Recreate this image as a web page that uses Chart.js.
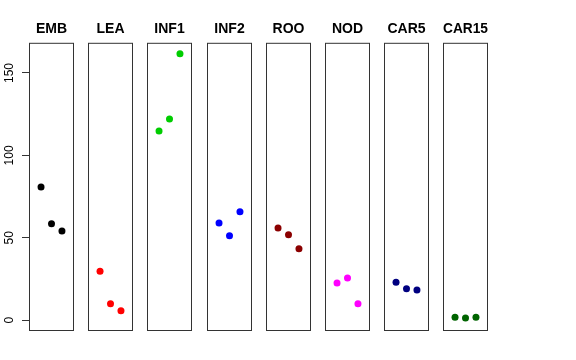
<!DOCTYPE html>
<html>
<head>
<meta charset="utf-8">
<script src="https://cdn.jsdelivr.net/npm/chart.js@4.4.1/dist/chart.umd.min.js"></script>
<style>
body { margin: 0; background: #fff; }
#wrap { position: relative; width: 576px; height: 360px; overflow: hidden; background: #fff; }
canvas { position: absolute; top: 0; }
</style>
</head>
<body>
<div id="wrap"></div>
<script>
// panels, one per tissue
const groups = ['EMB', 'LEA', 'INF1', 'INF2', 'ROO', 'NOD', 'CAR5', 'CAR15'];
const colors = ['#000000', '#FF0000', '#00CD00', '#0000FF', '#8B0000', '#FF00FF', '#000080', '#006400'];
const reps = [1, 2, 3];

// values
const emb   = [80.8, 58.6, 54.2];
const lea   = [29.7, 10.1, 5.8];
const inf1  = [114.8, 122.1, 161.7];
const inf2  = [59.0, 51.3, 65.9];
const roo   = [56.0, 51.9, 43.4];
const nod   = [22.6, 25.7, 10.1];
const car5  = [23.0, 19.2, 18.4];
const car15 = [1.8, 1.4, 1.8];
const values = [emb, lea, inf1, inf2, roo, nod, car5, car15];

const yTicks = [0, 50, 100, 150];

// layout
const firstLeft = 29;
const step = 59.2;
const panelW = 45;
const pad = 7;
const bottomPad = 29;

const boxPlugin = {
    id: 'panelBox',
    afterDatasetsDraw(chart) {
        const {ctx, chartArea: a} = chart;
        ctx.save();
        ctx.strokeStyle = '#333';
        ctx.lineWidth = 1;
        ctx.strokeRect(a.left + 0.5, a.top + 0.5, a.width - 1, a.height - 1);
        ctx.restore();
    }
};

const yLabelPlugin = {
    id: 'yLabels',
    afterDraw(chart) {
        const s = chart.scales.y;
        if (!s.options.display) return;
        const ctx = chart.ctx;
        ctx.save();
        ctx.fillStyle = '#000';
        ctx.font = '12px "Liberation Sans", Arial, sans-serif';
        ctx.textAlign = 'center';
        ctx.textBaseline = 'alphabetic';
        yTicks.forEach(v => {
            ctx.save();
            ctx.translate(13, s.getPixelForValue(v));
            ctx.rotate(-Math.PI / 2);
            ctx.fillText(String(v), 0, 0);
            ctx.restore();
        });
        ctx.restore();
    }
};

const wrap = document.getElementById('wrap');

groups.forEach((name, i) => {
    const first = i === 0;
    const canvas = document.createElement('canvas');
    const w = first ? firstLeft + panelW + pad : panelW + 2 * pad;
    canvas.width = w;
    canvas.height = 360;
    canvas.style.width = w + 'px';
    canvas.style.height = '360px';
    canvas.style.left = (first ? 0 : Math.round(firstLeft + step * i) - pad) + 'px';
    wrap.appendChild(canvas);

    new Chart(canvas.getContext('2d'), {
        type: 'scatter',
        data: {
            datasets: [{
                data: reps.map((r, k) => ({x: r, y: values[i][k]})),
                backgroundColor: colors[i],
                borderColor: colors[i],
                pointRadius: 3.5,
                pointBorderWidth: 0,
                showLine: false
            }]
        },
        options: {
            responsive: false,
            animation: false,
            devicePixelRatio: 1,
            events: [],
            layout: {
                padding: {left: first ? 0 : pad, right: pad, top: 0, bottom: bottomPad}
            },
            scales: {
                x: {
                    type: 'linear',
                    min: -0.15,
                    max: 4.15,
                    display: false
                },
                y: {
                    type: 'linear',
                    min: -6.5,
                    max: 168.3,
                    display: first,
                    afterFit: s => { s.width = first ? firstLeft : 0; },
                    afterBuildTicks: s => { s.ticks = yTicks.map(v => ({value: v})); },
                    border: {display: false},
                    grid: {
                        drawOnChartArea: false,
                        drawTicks: true,
                        tickLength: 7,
                        color: '#333',
                        lineWidth: 1
                    },
                    ticks: {display: false}
                }
            },
            plugins: {
                legend: {display: false},
                tooltip: {enabled: false},
                title: {
                    display: true,
                    text: name,
                    fullSize: !first,
                    color: '#000',
                    font: {family: '"Liberation Sans", Arial, sans-serif', size: 14, weight: 'bold'},
                    padding: {top: 21, bottom: 5}
                }
            }
        },
        plugins: [boxPlugin, yLabelPlugin]
    });
});
</script>
</body>
</html>
